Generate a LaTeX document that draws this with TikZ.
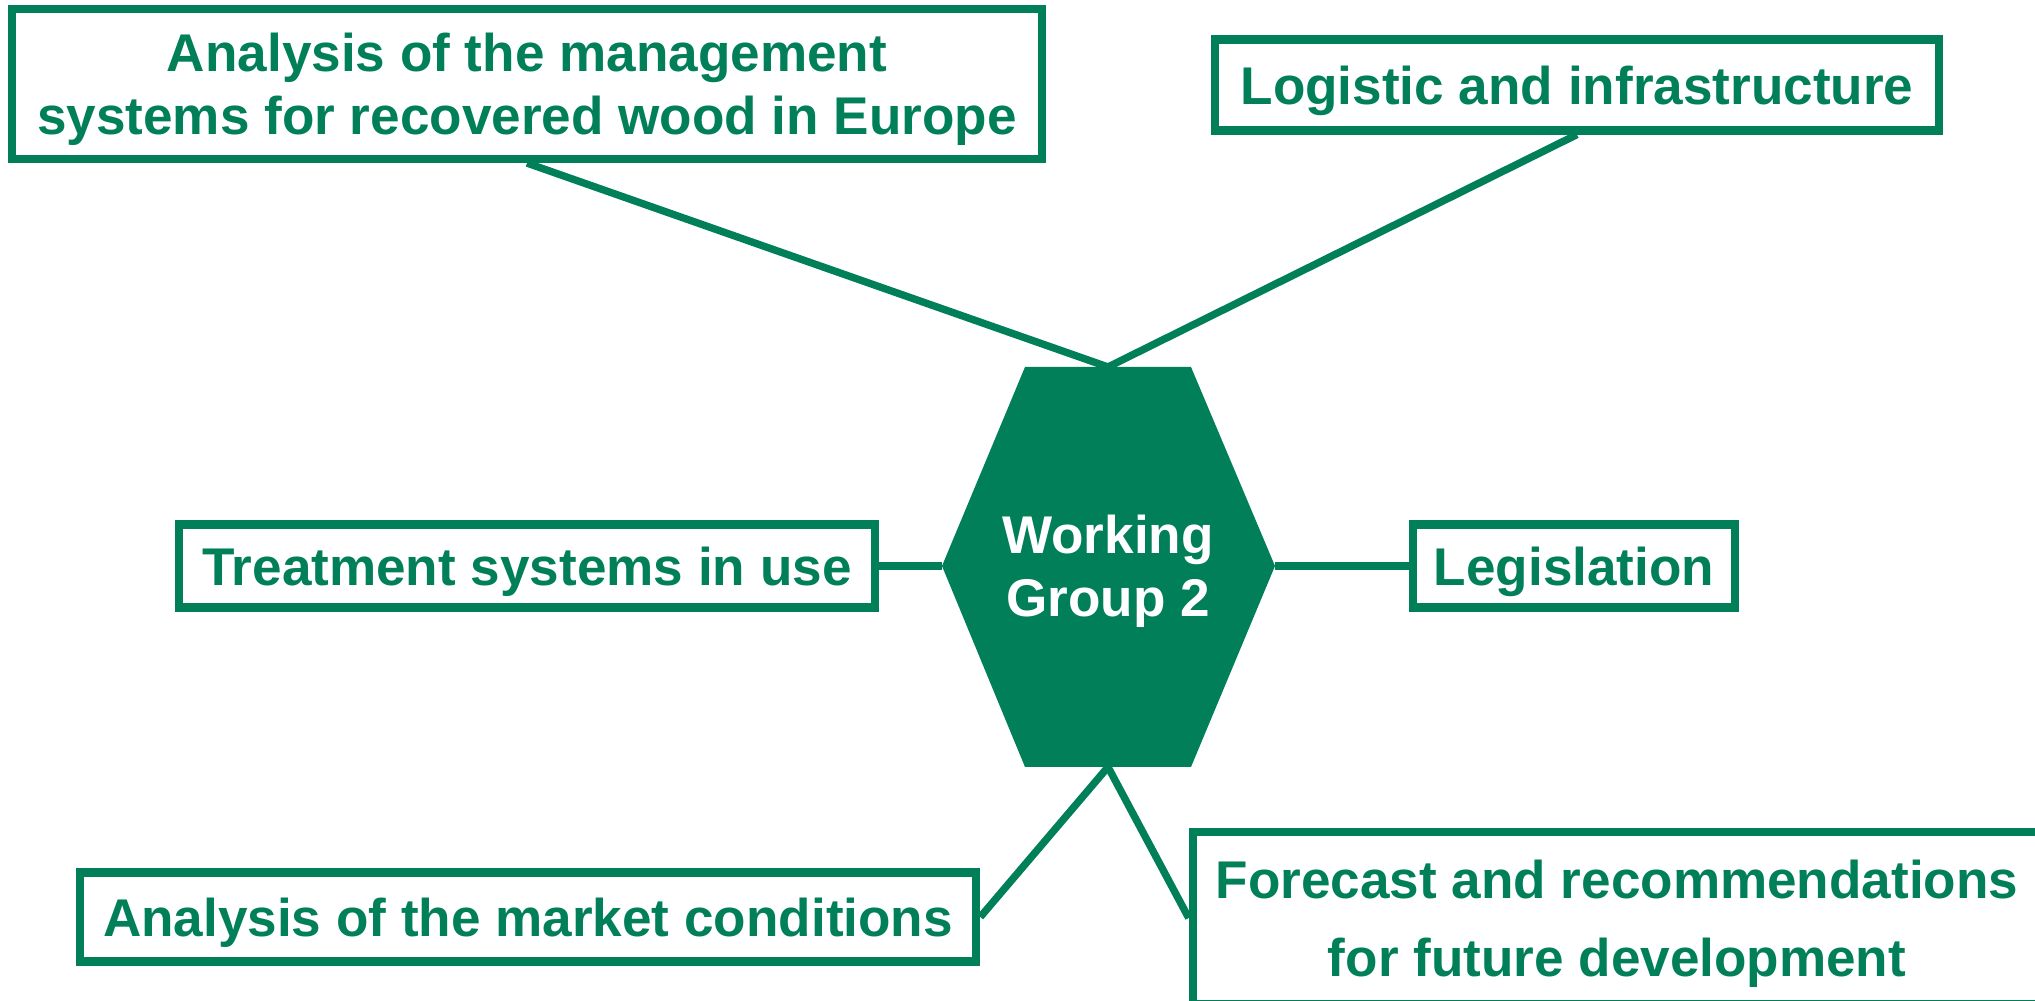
\documentclass[tikz,border=0pt]{standalone}
\usepackage{fontspec}
\setmainfont{Liberation Sans}
\definecolor{wggreen}{RGB}{0,127,89}

\tikzset{
  topic/.style={draw=wggreen, line width=2.3pt, text=wggreen, align=center,
    inner sep=0pt, text depth=0pt, font=\fontsize{15.1}{17.9}\selectfont\bfseries},
  link/.style={draw=wggreen, line width=2.1pt},
}

\begin{document}
\begin{tikzpicture}[x=0.01cm, y=-0.01cm]
		\useasboundingbox (0,0) rectangle (2035,1001);
		% hexagon in the middle
		\coordinate (hn) at (1108,367);
		\coordinate (hs) at (1108,767);
		\coordinate (hw) at (942,566);
		\coordinate (he) at (1275,566);
		\fill[wggreen] (1025,367) -- (1191,367) -- (he) -- (1191,767) -- (1025,767) -- (hw) -- cycle;
		\node[text=white, align=center, text depth=0pt, font=\fontsize{15.1}{17.9}\selectfont\bfseries] (wg) at (1108,566) {Working\\Group 2};
		% topics
		\node[topic, minimum width=10.29cm, minimum height=1.50cm] (t1) at (527,84) {Analysis of the management\\systems for recovered wood in Europe};
		\node[topic, minimum width=7.24cm, minimum height=0.91cm] (t2) at (1577,85) {Logistic and infrastructure};
		\node[topic, minimum width=6.96cm, minimum height=0.83cm] (t3) at (527,566) {Treatment systems in use};
		\node[topic, minimum width=3.22cm, minimum height=0.83cm] (t4) at (1574,566) {Legislation};
		\node[topic, minimum width=8.96cm, minimum height=0.89cm] (t5) at (528,917) {Analysis of the market conditions};
		\node[topic, minimum width=8.48cm, minimum height=1.72cm, font=\fontsize{15.1}{22.1}\selectfont\bfseries] (t6) at (1617,918) {Forecast and recommendations\\for future development};
		% connectors
		\draw[link] (t1.south) -- (hn);
		\draw[link] (t2.south) -- (hn);
		\draw[link] (t3.east) -- (hw);
		\draw[link] (he) -- (t4.west);
		\draw[link] (t5.east) -- (hs);
		\draw[link] (hs) -- (t6.west);
\end{tikzpicture}
\end{document}
